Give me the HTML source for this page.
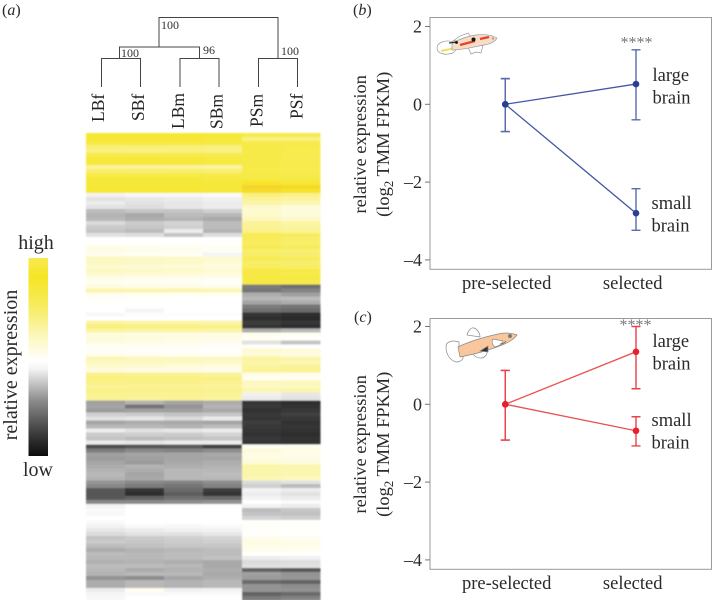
<!DOCTYPE html>
<html lang="en">
<head>
<meta charset="utf-8">
<title>Relative expression heatmap and reaction norms</title>
<style>
html,body{margin:0;padding:0;background:#fff;}
svg{display:block;font-family:"Liberation Serif",serif;fill:#2a2a2a;}
</style>
</head>
<body>
<svg id="figure" width="712" height="600" viewBox="0 0 712 600" xmlns="http://www.w3.org/2000/svg">
  <defs>
    <linearGradient id="scale" x1="0" y1="0" x2="0" y2="1">
      <stop offset="0" stop-color="#f9e94f"/>
      <stop offset="0.1" stop-color="#f5e524"/>
      <stop offset="0.25" stop-color="#f7ec62"/>
      <stop offset="0.4" stop-color="#fcf8c0"/>
      <stop offset="0.52" stop-color="#ffffff"/>
      <stop offset="0.56" stop-color="#f4f4f4"/>
      <stop offset="0.72" stop-color="#8c8c8c"/>
      <stop offset="0.88" stop-color="#3e3e3e"/>
      <stop offset="1" stop-color="#0c0c0c"/>
    </linearGradient>
    <filter id="soft" x="-2%" y="-2%" width="104%" height="104%"><feGaussianBlur stdDeviation="0.7"/></filter>
  </defs>

  <text x="2" y="15" font-size="16">(<tspan font-style="italic">a</tspan>)</text>
  <text x="353" y="15" font-size="16">(<tspan font-style="italic">b</tspan>)</text>
  <text x="354" y="322" font-size="16">(<tspan font-style="italic">c</tspan>)</text>

  <g id="dendrogram" fill="none" stroke="#444" stroke-width="1">
    <path d="M101.5 87V58.5H140.5V87"/>
    <path d="M180 87V58.5H219V87"/>
    <path d="M258.5 87V58.5H297.5V87"/>
    <path d="M119.5 58.5V47H199.5V58.5"/>
    <path d="M159 47V17.5H278V58.5"/>
  </g>
  <g font-size="12" fill="#333">
    <text x="161" y="29">100</text>
    <text x="121" y="57">100</text>
    <text x="203" y="54">96</text>
    <text x="281" y="55">100</text>
  </g>

  <g id="heat-labels" font-size="17.5" fill="#222"></g>
  <g id="heatmap" filter="url(#soft)" shape-rendering="crispEdges"></g>

  <g>
    <rect x="28.5" y="258" width="19.5" height="198" fill="url(#scale)"/>
    <text x="36" y="249" font-size="20" text-anchor="middle">high</text>
    <text x="38" y="476" font-size="20" text-anchor="middle">low</text>
    <text transform="translate(17 365) rotate(-90)" font-size="20" text-anchor="middle">relative expression</text>
  </g>

  <g id="panel-b"></g>
  <g id="panel-c"></g>

  <g font-size="18.5">
    <text x="652.5" y="81">large</text><text x="652.5" y="103.5">brain</text>
  </g>
  <g font-size="18.5">
    <text x="651.5" y="209">small</text><text x="651.5" y="231.5">brain</text>
  </g>
  <g font-size="18.5">
    <text x="652.5" y="347">large</text><text x="652.5" y="369.5">brain</text>
  </g>
  <g font-size="18.5">
    <text x="651.5" y="426">small</text><text x="651.5" y="448.5">brain</text>
  </g>
  <text x="636.5" y="47.5" font-size="16" text-anchor="middle" fill="#777">****</text>
  <text x="635.5" y="330" font-size="16" text-anchor="middle" fill="#777">****</text>

  <g stroke="#999" stroke-width="0.7">
    <path d="M453 42C445 39 437 43 437 48C437 53 444 56 453 53L458 48Z" fill="#fff"/>
    <path d="M441 51L455 48" stroke="#f0e060" stroke-width="2" fill="none"/>
    <path d="M453 41L460 36L468 33L471 37L469 40Z" fill="#fff"/>
    <path d="M468 47L471 54L476 52L481 53L483 45Z" fill="#fff"/>
    <path d="M452 43C460 39 468 36 476 35C484 34 492 35 497 38C495 42 490 44 484 45C474 47 462 50 452 50Z" fill="#f8dcc6"/>
    <path d="M460 45L475 41M480 39L489 37" stroke="#e5432a" stroke-width="2.2" fill="none"/>
    <path d="M449 43L458 42" stroke="#333" stroke-width="1.2" fill="none"/>
    <circle cx="456.5" cy="42.5" r="1.4" fill="#111" stroke="none"/>
    <circle cx="473.5" cy="39.5" r="2" fill="#111" stroke="none"/>
    <circle cx="493" cy="38.5" r="1.2" fill="#b99" stroke="none"/>
  </g>
  <g stroke="#888" stroke-width="0.7">
    <path d="M459 342C453 340 446 341 446 347C446 353 449 360 456 362C461 362 464 359 463 355L459 350Z" fill="#fff"/>
    <path d="M467 335C468 331 471 327 474 328C477 329 480 333 480 337Z" fill="#fff"/>
    <path d="M473 352C473 356 477 358 481 358C485 358 488 354 487 349Z" fill="#fff"/>
    <path d="M458 347C466 343 480 338 498 334C505 332.5 511 332.5 517 335C514 339 508 343 502 345C490 350 475 354 460 357Z" fill="#f9c79b"/>
    <path d="M480 351L488 346L488 352Z" fill="#333"/>
    <path d="M493 339C491 342 493 346 495 347C499 346 502 344 503 341Z" fill="#fff"/>
    <path d="M500 344Q504 344 506 341" fill="none" stroke="#666"/>
    <circle cx="510" cy="336" r="1.8" fill="#777"/>
  </g>

<script>
// Heatmap data: one value per row, in hundredths of the colour scale
const heatColumns = ["LBf", "SBf", "LBm", "SBm", "PSm", "PSf"];
const heatLBf = [95,95,90,65,60,85,92,92,50,70,85,92,92,95,95,
-5,-12,-8,-12,-28,-32,-30,-15,-22,-25,-12,0,2,10,12,8,30,28,22,28,22,10,6,15,40,8,3,2,0,0,-3,0,45,60,45,15,18,14,5,4,8,35,30,
22,15,55,60,55,50,58,50,50,
-40,-38,-42,-20,-12,-38,-30,-8,-22,-25,-8,-75,-55,-40,-42,-38,-35,-32,-30,-32,-45,-50,-70,-72,-70,-50,-5,-2,-3,0,-2,-5,-10,-15,-25,-22,-28,-35,-28,-30,-33,-28,-30,-32,-45,-35,-35,-8,-4,-3];
const heatSBf = [95,95,90,63,58,85,92,92,48,68,85,92,92,95,95,
-3,-10,-12,-14,-24,-36,-34,-22,-24,-28,-14,0,2,8,10,6,28,26,20,26,20,8,5,12,38,6,2,1,0,-4,-1,0,42,58,42,12,15,12,4,3,6,32,28,
20,12,52,58,55,50,55,50,48,
-32,-58,-40,-22,-10,-35,-30,-12,-20,-28,-10,-72,-50,-38,-40,-42,-32,-35,-38,-36,-50,-55,-85,-88,-65,-50,-1,0,0,0,0,-2,-8,-12,-22,-24,-26,-32,-30,-30,-32,-28,-35,-30,-48,-30,-30,8,-2,0];
const heatLBm = [95,95,90,64,60,85,92,92,48,70,85,92,92,95,95,
-3,-8,-10,-10,-25,-28,-32,-18,-20,-8,-25,0,2,6,8,5,26,24,20,25,18,8,4,12,38,5,1,0,0,0,-1,0,42,58,44,12,14,10,4,3,5,30,26,
18,12,52,58,55,50,55,50,50,
-38,-45,-40,-25,-15,-36,-32,-10,-22,-26,-8,-70,-52,-38,-38,-36,-34,-30,-30,-30,-52,-58,-62,-68,-60,-48,-1,0,0,0,0,-3,-6,-12,-20,-22,-24,-30,-28,-28,-34,-30,-32,-30,-38,-32,-32,-6,-2,0];
const heatSBm = [93,93,88,62,58,83,90,90,46,66,83,90,92,93,93,
-2,-6,-8,-8,-20,-30,-36,-28,-28,-32,-14,0,1,4,5,-4,22,20,16,20,15,6,3,10,36,4,1,0,0,0,-1,0,40,56,42,12,12,8,3,2,4,28,24,
14,8,50,56,52,48,52,48,46,
-35,-32,-36,-24,-8,-38,-28,-8,-18,-25,-8,-80,-48,-36,-38,-34,-32,-30,-28,-30,-48,-52,-82,-85,-62,-46,-1,0,0,0,0,-2,-5,-10,-18,-20,-24,-28,-28,-26,-36,-36,-34,-36,-34,-30,-30,-5,-2,0];
const heatPSm = [85,60,85,88,86,86,85,86,85,85,86,90,100,108,104,
60,50,40,25,22,25,30,48,50,55,80,78,75,80,70,72,80,72,75,88,88,90,88,-55,-58,-35,-30,-38,-55,-60,-85,-88,-82,-85,-35,8,5,-12,3,22,18,45,40,
45,50,12,5,30,28,38,-6,-8,
-85,-84,-86,-84,-85,-82,-84,-85,-86,-84,-85,5,18,12,14,20,42,38,40,35,-15,-20,-5,-8,-5,0,-5,-28,-25,-18,2,4,3,0,10,12,12,8,2,-8,-15,-12,-65,-40,-42,-62,-45,-45,-65,-55];
const heatPSf = [83,60,83,84,82,82,82,84,82,82,84,88,96,106,102,
55,45,35,18,16,18,25,42,46,50,76,72,70,76,66,68,76,68,72,86,86,88,86,-60,-52,-40,-28,-35,-58,-62,-88,-90,-85,-88,-30,6,2,-25,0,18,14,40,36,
48,52,8,8,32,30,40,-10,-12,
-88,-86,-84,-80,-84,-86,-85,-86,-88,-86,-86,6,14,10,12,16,38,36,38,30,-12,-28,-8,-12,-8,-2,-8,-24,-26,-20,2,3,2,0,8,10,10,6,2,-6,-14,-12,-70,-45,-44,-65,-48,-46,-62,-52];
const heatSeries = [heatLBf, heatSBf, heatLBm, heatSBm, heatPSm, heatPSf];

// Line chart data
const groups = ["pre-selected", "selected"];
const yTicks = [2, 0, -2, -4];
const guppyLarge = [0, 0.52];
const guppyLargeHigh = [0.66, 1.40];
const guppyLargeLow = [-0.70, -0.40];
const guppySmall = [0, -2.80];
const guppySmallHigh = [0.66, -2.17];
const guppySmallLow = [-0.70, -3.24];
const medakaLarge = [0, 1.35];
const medakaLargeHigh = [0.87, 2.00];
const medakaLargeLow = [-0.92, 0.40];
const medakaSmall = [0, -0.68];
const medakaSmallHigh = [0.87, -0.32];
const medakaSmallLow = [-0.92, -1.07];

const NS = "http://www.w3.org/2000/svg";
function make(parent, tag, attrs, text) {
  const el = document.createElementNS(NS, tag);
  for (const k in attrs) el.setAttribute(k, attrs[k]);
  if (text !== undefined) el.textContent = text;
  parent.appendChild(el);
  return el;
}

/* Heatmap */
const heatLeft = 86, heatTop = 133, heatColW = 39, heatRowH = 467 / heatLBf.length;
const heatX = c => heatLeft + c * heatColW;
const heatY = r => heatTop + r * heatRowH;
function mix(a, b, t) {
  return [0, 1, 2].map(i => Math.round(a[i] + (b[i] - a[i]) * t));
}
function heatColor(v) {
  const white = [255, 255, 255], yellow = [245, 230, 42], orange = [248, 185, 50], black = [17, 17, 17];
  let c;
  if (v < 0) c = mix(white, black, Math.min(1, -v / 100));
  else if (v <= 100) c = mix(white, yellow, v / 100);
  else c = mix(yellow, orange, Math.min(1, (v - 100) / 20));
  return "rgb(" + c.join(",") + ")";
}
const heatGroup = document.getElementById("heatmap");
heatSeries.forEach((series, c) => {
  series.forEach((v, r) => {
    const cell = make(heatGroup, "rect", {
      x: heatX(c), y: heatY(r), width: heatColW + 0.5, height: heatRowH + 0.5, fill: heatColor(v)
    });
    
    
  });
});

/* Column labels */
const labelGroup = document.getElementById("heat-labels");
const labelBaseX = [104, 144, 184, 222.5, 262.5, 302.5];
const labelBottom = [122, 121, 129, 129, 127, 119];
heatColumns.forEach((name, i) => {
  const t = make(labelGroup, "text", {
    transform: "translate(" + labelBaseX[i] + " " + labelBottom[i] + ") rotate(-90)"
  }, name);
  
  
});

/* Line panels */
function drawPanel(id, frameTop, zeroY, color, lineColor, barColor, upper, lower, prefix) {
  const root = document.getElementById(id);
  const unit = 38.9;
  const x = i => 505.3 + i * 130.7;
  const y = v => zeroY - v * unit;
  const frameBottom = zeroY + 165;

  const frame = make(root, "rect", {
    x: 430, y: frameTop, width: 281.5, height: frameBottom - frameTop,
    fill: "none", stroke: "#9a9a9a", "stroke-width": 1
  });
  
  

  yTicks.forEach(t => {
    const tick = make(root, "line", {
      x1: 425, x2: 430, y1: y(t), y2: y(t), stroke: "#777", "stroke-width": 1
    });
    
    
    const label = make(root, "text", {
      x: 422, y: y(t) + 6, "font-size": 18, "text-anchor": "end"
    }, t < 0 ? "\u2013" + (-t) : String(t));
    
    
  });

  const labelCenters = [506.7, 632.7];
  groups.forEach((g, i) => {
    const label = make(root, "text", {
      x: labelCenters[i], y: frameBottom + 19.5, "font-size": 18.5, "text-anchor": "middle"
    }, g);
    
    
  });

  const midY = zeroY + 40;
  const title1 = make(root, "text", {
    transform: "translate(366 " + midY + ") rotate(-90)", "font-size": 18.4, "text-anchor": "middle"
  }, "relative expression");
  
  
  const title2 = make(root, "text", {
    transform: "translate(389 " + midY + ") rotate(-90)", "font-size": 18.4, "text-anchor": "middle"
  });
  
  
  make(title2, "tspan", {}, "(log");
  make(title2, "tspan", { dy: 4, "font-size": 13 }, "2");
  make(title2, "tspan", { dy: -4 }, " TMM FPKM)");

  [upper, lower].forEach(s => {
    const line = make(root, "line", {
      x1: x(0), y1: y(s.mean[0]), x2: x(1), y2: y(s.mean[1]), stroke: lineColor, "stroke-width": 1.3
    });
    
    
    s.mean.forEach((m, i) => {
      const bar = make(root, "path", {
        d: "M" + (x(i) - 4.5) + " " + y(s.high[i]) + "H" + (x(i) + 4.5) +
           "M" + x(i) + " " + y(s.high[i]) + "V" + y(s.low[i]) +
           "M" + (x(i) - 4.5) + " " + y(s.low[i]) + "H" + (x(i) + 4.5),
        fill: "none", stroke: barColor, "stroke-width": 1.4
      });
      
      
      const dot = make(root, "circle", { cx: x(i), cy: y(m), r: 3.3, fill: color });
      
      
    });
  });
}

drawPanel("panel-b", 17.5, 104.3, "#2a3e92", "#4557a3", "#5a6ca8",
  { name: "large-brain", mean: guppyLarge, high: guppyLargeHigh, low: guppyLargeLow },
  { name: "small-brain", mean: guppySmall, high: guppySmallHigh, low: guppySmallLow }, "panel-b");
drawPanel("panel-c", 318.5, 404.3, "#e8202e", "#e9504f", "#e8434b",
  { name: "large-brain", mean: medakaLarge, high: medakaLargeHigh, low: medakaLargeLow },
  { name: "small-brain", mean: medakaSmall, high: medakaSmallHigh, low: medakaSmallLow }, "panel-c");
</script>
</svg>
</body>
</html>
